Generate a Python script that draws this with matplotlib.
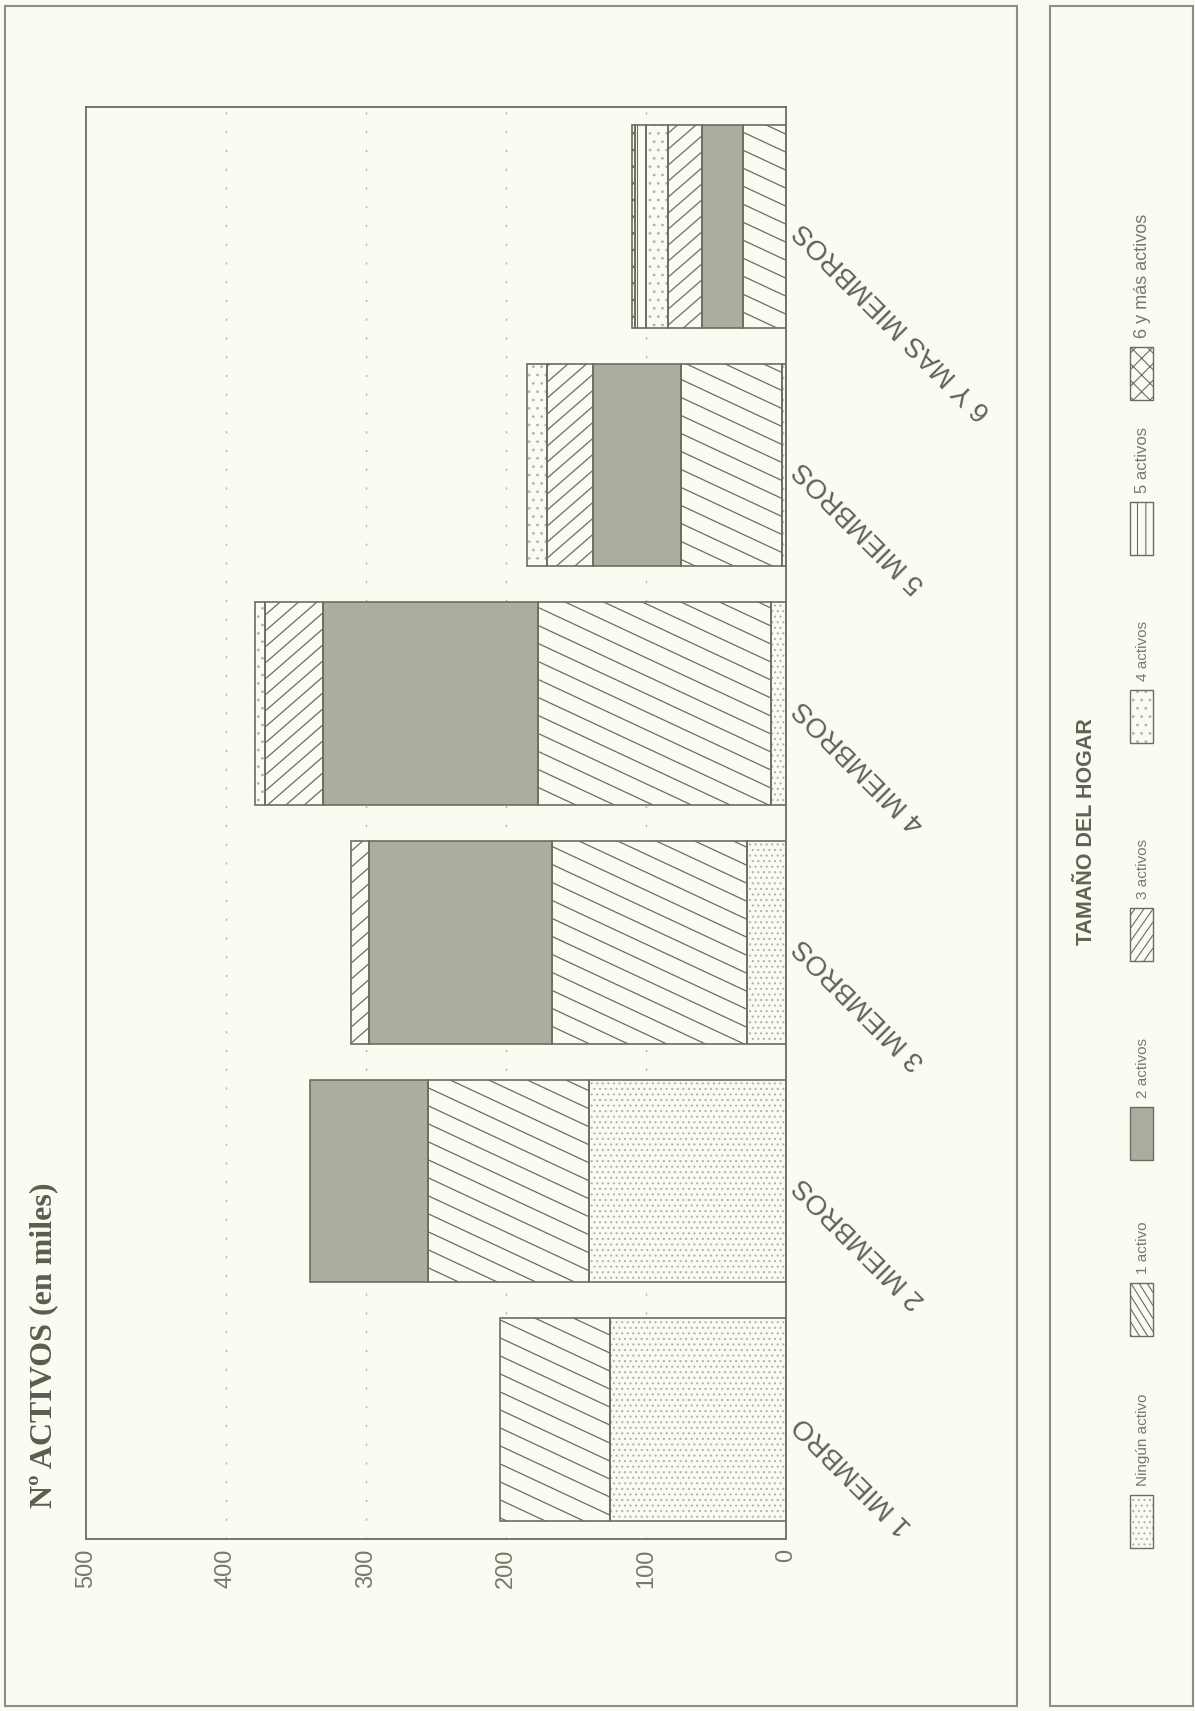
import numpy as np
import matplotlib
matplotlib.use('Agg')
import matplotlib.pyplot as plt
from matplotlib.patches import Rectangle
from matplotlib.collections import LineCollection
from matplotlib.transforms import IdentityTransform

categories = ['1 MIEMBRO', '2 MIEMBROS', '3 MIEMBROS', '4 MIEMBROS',
              '5 MIEMBROS', '6 Y MAS MIEMBROS']
series_names = ['Ningún activo', '1 activo', '2 activos', '3 activos',
                '4 activos', '5 activos', '6 y más activos']

ninguno = [126, 141, 28, 11, 3, 0]
uno = [78, 115, 139, 166, 72, 31]
dos = [0, 84, 131, 154, 63, 29]
tres = [0, 0, 13, 41, 33, 24]
cuatro = [0, 0, 0, 7, 14, 16]
cinco = [0, 0, 0, 0, 0, 8]
seis = [0, 0, 0, 0, 0, 2]
series = [ninguno, uno, dos, tres, cuatro, cinco, seis]

value_ticks = [0, 100, 200, 300, 400, 500]

W, H = 1195, 1711
PAPER = '#fbfbf1'
INK = '#6b6f5f'
GREY = '#a9ae9e'
DOT = '#b2b6a6'
TXT = '#767a6b'

plt.rcParams['font.family'] = ['Liberation Sans', 'DejaVu Sans']
plt.rcParams['hatch.linewidth'] = 0.8

# fill style of each series: face colour, matplotlib hatch, custom line hatch
styles = [
    dict(face=PAPER, hatch='...', hcolor=DOT),
    dict(face=PAPER, lines=(-25, 18)),
    dict(face=GREY),
    dict(face=PAPER, lines=(41, 16)),
    dict(face=PAPER, hatch='..', hcolor=DOT),
    dict(face=PAPER, hatch='||', hcolor=INK),
    dict(face=PAPER, hatch='xx', hcolor=INK),
]
legend_lines = [None, (-58, 13), None, (55, 13), None, None, None]
legend_sizes = [11, 11, 11, 11, 11, 12, 13]


def line_hatch(axis, patch, angle, step, color, lw=0.9):
    box = patch.get_window_extent()
    x0, y0, x1, y1 = box.x0, box.y0, box.x1, box.y1
    slope = np.tan(np.radians(angle))
    span = abs(slope) * (x1 - x0)
    offsets = np.arange(y0 - span - step, y1 + span + step, step)
    segs = [[(x0, c), (x1, c + slope * (x1 - x0))] for c in offsets]
    lc = LineCollection(segs, colors=color, linewidths=lw,
                        transform=IdentityTransform(), zorder=3)
    axis.add_collection(lc, autolim=False)
    lc.set_clip_path(patch)


fig = plt.figure(figsize=(W / 100, H / 100), dpi=100, facecolor=PAPER)

bg = fig.add_axes([0, 0, 1, 1])
bg.set_xlim(0, W)
bg.set_ylim(H, 0)
bg.axis('off')

ax = fig.add_axes([86 / W, 1 - 1539 / H, 700 / W, 1432 / H], facecolor=PAPER)
ax.set_xlim(500, 0)
ax.set_ylim(-0.5, 5.5)
ax.set_autoscale_on(False)

ypos = np.arange(len(categories))
left = np.zeros(len(categories))
for vals, st in zip(series, styles):
    for i, v in enumerate(vals):
        if v <= 0:
            continue
        fill = ax.barh(ypos[i], v, left=left[i], height=0.85, color=st['face'],
                       hatch=st.get('hatch'), edgecolor=st.get('hcolor', INK),
                       linewidth=0, zorder=2)[0]
        if 'lines' in st:
            line_hatch(ax, fill, *st['lines'], INK)
        ax.barh(ypos[i], v, left=left[i], height=0.85, facecolor='none',
                edgecolor=INK, linewidth=1.2, zorder=4)
    left += np.array(vals)

for v in value_ticks[1:-1]:
    ax.axvline(v, color=DOT, ls=(0, (1.5, 12)), lw=1, zorder=1)

ax.set_xticks(value_ticks)
ax.tick_params(axis='x', length=0, pad=7, labelsize=17, labelcolor=TXT,
               labelrotation=90)
ax.set_yticks([])
for sp in ax.spines.values():
    sp.set_color(INK)
    sp.set_linewidth(1.3)

for i, cat in enumerate(categories):
    ax.annotate(cat, xy=(1, ypos[i]), xycoords=ax.get_yaxis_transform(),
                xytext=(9, 0), textcoords='offset points', rotation=135,
                rotation_mode='anchor', ha='right', va='center',
                fontsize=20, color='#5f6354')

bg.text(44, 1508, 'Nº ACTIVOS (en miles)', rotation=90, rotation_mode='anchor',
        ha='left', va='center', fontsize=23, weight='bold',
        family='Liberation Serif', color='#5a5e4f')

# panel frames
bg.add_patch(Rectangle((5.5, 5.5), 1011.5, 1700, fill=False, ec='#8b8f7f', lw=1.5))
bg.add_patch(Rectangle((1050, 5.5), 143, 1700, fill=False, ec='#8b8f7f', lw=1.5))

# legend
bg.text(1087, 832, 'TAMAÑO DEL HOGAR', rotation=90, ha='center', va='center',
        fontsize=15.5, weight='bold', color='#5f6354')
swatch_tops = [1495, 1283, 1107, 908, 690, 502, 347]
for name, st, ll, top, fs in zip(series_names, styles, legend_lines,
                                 swatch_tops, legend_sizes):
    sw = Rectangle((1130, top), 23, 53, facecolor=st['face'], hatch=st.get('hatch'),
                   edgecolor=st.get('hcolor', INK), linewidth=0)
    bg.add_patch(sw)
    if ll:
        line_hatch(bg, sw, ll[0], ll[1], INK, lw=0.8)
    bg.add_patch(Rectangle((1130, top), 23, 53, fill=False, ec=INK, lw=1))
    bg.text(1143, top - 9, name, rotation=90, rotation_mode='anchor',
            ha='left', va='center', fontsize=fs, color=TXT)

fig.savefig('out.png', dpi=100, facecolor=PAPER)
